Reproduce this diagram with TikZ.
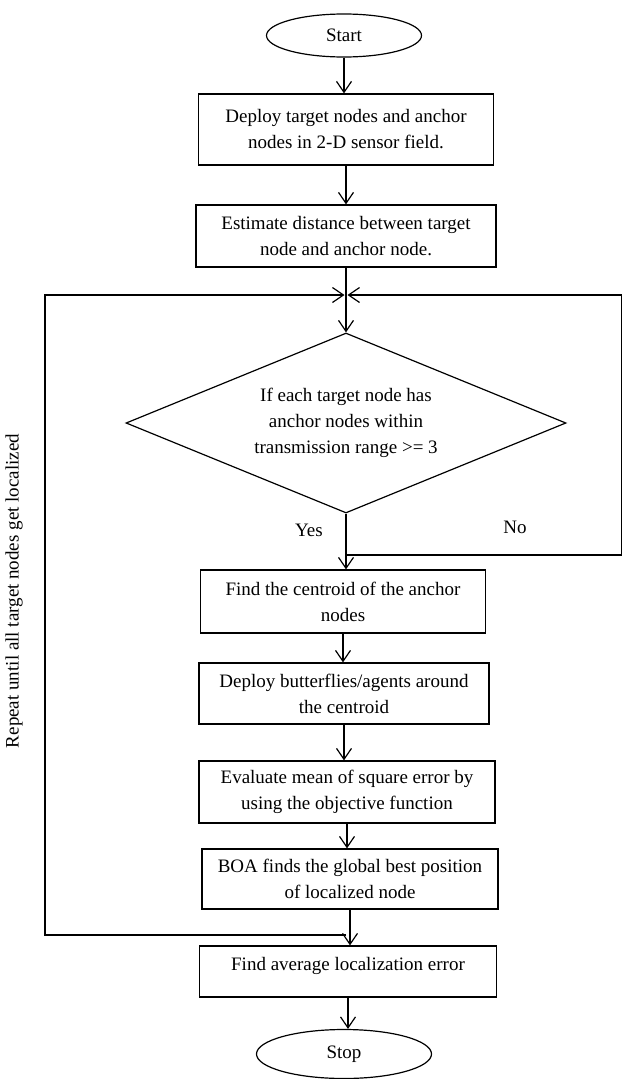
\documentclass[tikz,border=0pt]{standalone}
\usepackage{fontspec}
\setmainfont{Liberation Serif}
\usetikzlibrary{shapes.geometric,arrows.meta}
\begin{document}
\begin{tikzpicture}[x=1pt,y=-1pt,
  every node/.style={font=\fontsize{19}{26}\selectfont},
  line/.style={line width=1.2pt},
  arr/.style={line width=1.2pt,-{Straight Barb[length=11pt,width=15pt,line width=1.2pt]}},
  procbox/.style={draw,line width=1.2pt,rectangle,inner sep=0pt,align=center},
  term/.style={draw,line width=1.2pt,ellipse,inner sep=0pt},
  decision/.style={draw,line width=1.2pt,diamond,aspect=2.44,inner sep=0pt,align=center}]
\useasboundingbox (0,0) rectangle (623,1079);
\node[term,minimum width=155pt,minimum height=43pt] (start) at (344,35.5) {Start};
\node[procbox,minimum width=295pt,minimum height=71pt] (b1) at (346,129.5) {Deploy target nodes and anchor\\nodes in 2-D sensor field.};
\node[procbox,minimum width=300pt,minimum height=62pt] (b2) at (346,236) {Estimate distance between target\\node and anchor node.};
\node[decision,minimum width=440pt,minimum height=180pt] (dec) at (346,423) {If each target node has\\anchor nodes within\\transmission range >= 3};
\node[procbox,minimum width=285pt,minimum height=63pt] (b3) at (343,601.5) {Find the centroid of the anchor\\nodes};
\node[procbox,minimum width=290pt,minimum height=61pt] (b4) at (344,693.5) {Deploy butterflies/agents around\\the centroid};
\node[procbox,minimum width=296pt,minimum height=62pt] (b5) at (347,792) {Evaluate mean of square error by\\using the objective function};
\node[procbox,minimum width=296pt,minimum height=60pt] (b6) at (350,879) {BOA finds the global best position\\of localized node};
\node[procbox,minimum width=297pt,minimum height=51pt,text depth=16pt] (b7) at (348,971.5) {Find average localization error};
\node[term,minimum width=175pt,minimum height=49pt] (stop) at (344,1054) {Stop};
\node (yes) at (309,530) {Yes};
\node (no) at (515,527) {No};
\node[rotate=90] (rep) at (14,591) {Repeat until all target nodes get localized};
% coordinates
\coordinate (j) at (346,295);
\coordinate (jl) at (344.5,295);
\coordinate (jr) at (347.5,295);
\coordinate (lb) at (346,935);
\coordinate (lbl) at (45,935);
\coordinate (ltl) at (45,295);
\coordinate (ny) at (346,555);
\coordinate (nyr) at (621.5,555);
\coordinate (ntr) at (621.5,295);
% connectors
\draw[arr] (start.south) -- (start.south |- b1.north);
\draw[arr] (b1.south) -- (b1.south |- b2.north);
\draw[line] (b2.south) -- (j);
\draw[arr] (j) -- (dec.north);
\draw[arr] (dec.south) -- (dec.south |- b3.north);
\draw[arr] (b3.south) -- (b3.south |- b4.north);
\draw[arr] (b4.south) -- (b4.south |- b5.north);
\draw[arr] (b5.south) -- (b5.south |- b6.north);
\draw[arr] (b6.south) -- (b6.south |- b7.north);
\draw[arr] (b7.south) -- (b7.south |- stop.north);
\draw[arr] (lb) -- (lbl) -- (ltl) -- (jl);
\draw[arr] (ny) -- (nyr) -- (ntr) -- (jr);
\end{tikzpicture}
\end{document}
